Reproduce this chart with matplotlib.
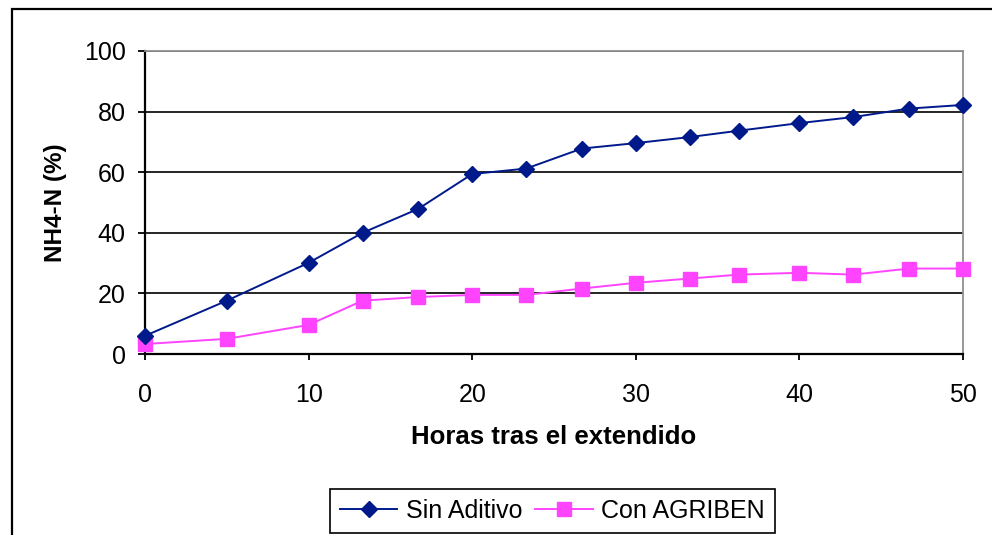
import matplotlib
matplotlib.use("Agg")
from matplotlib import pyplot as plt
from matplotlib.patches import Rectangle

plt.rcParams['font.family'] = ['Liberation Sans', 'DejaVu Sans']

# hours after spreading
horas = [0, 5, 10, 13.3, 16.7, 20, 23.3, 26.7, 30, 33.3, 36.3, 40, 43.3, 46.7, 50]
# NH4-N (%)
sin_aditivo = [6, 17.6, 30.1, 40, 47.9, 59.4, 61.2, 67.8, 69.6, 71.6, 73.7, 76.2, 78.2, 81, 82.2]
con_agriben = [3.3, 5, 9.6, 17.6, 18.8, 19.5, 19.5, 21.6, 23.5, 24.9, 26.2, 26.8, 26.2, 28.2, 28.2]

x_ticks = [0, 10, 20, 30, 40, 50]
y_ticks = [0, 20, 40, 60, 80, 100]

fig = plt.figure(figsize=(9.92, 5.35), dpi=100)
ax = fig.add_axes([145/992, 1 - 354/535, 818/992, 303/535])

ax.plot(horas, sin_aditivo, color='#001a8c', lw=1.4, marker='D', markersize=8.5,
        label='Sin Aditivo', clip_on=False, zorder=4)
ax.plot(horas, con_agriben, color='#ff44ff', lw=1.4, marker='s', markersize=9.5,
        label='Con AGRIBEN', clip_on=False, zorder=3)

ax.set_xlim(0, 50)
ax.set_ylim(0, 100)
ax.set_xticks(x_ticks)
ax.set_yticks(y_ticks)
ax.yaxis.grid(True, color='black', lw=1.2)
ax.set_axisbelow(True)

for s in ['left', 'bottom']:
    ax.spines[s].set_color('black')
    ax.spines[s].set_linewidth(1.6)
for s in ['top', 'right']:
    ax.spines[s].set_color('#909090')
    ax.spines[s].set_linewidth(1.3)

ax.tick_params(axis='y', direction='out', length=5, width=1.3, pad=9, labelsize=18)
ax.tick_params(axis='x', direction='out', length=4, width=1.3, pad=17, labelsize=18)

ax.set_ylabel('NH4-N (%)', fontsize=17.5, fontweight='bold', va='center')
ax.yaxis.set_label_coords(-0.110, 0.5)
ax.set_xlabel('Horas tras el extendido', fontsize=18.5, fontweight='bold', va='center')
ax.xaxis.set_label_coords(0.5, -0.274)

leg = fig.legend(loc='center', bbox_to_anchor=(552.5/992, 1 - 510.5/535), ncol=2,
                 fontsize=18, fancybox=False, framealpha=1, edgecolor='black',
                 handlelength=2.3, handletextpad=0.35, columnspacing=0.5,
                 borderpad=0.4)
leg.get_frame().set_linewidth(1.2)

# outer chart frame (cropped on right and bottom)
fig.add_artist(Rectangle((12/992, -0.05), 1.1, 1 - 9/535 + 0.05, transform=fig.transFigure,
                         fill=False, edgecolor='black', lw=1.6))

plt.savefig('out.png', dpi=100)
